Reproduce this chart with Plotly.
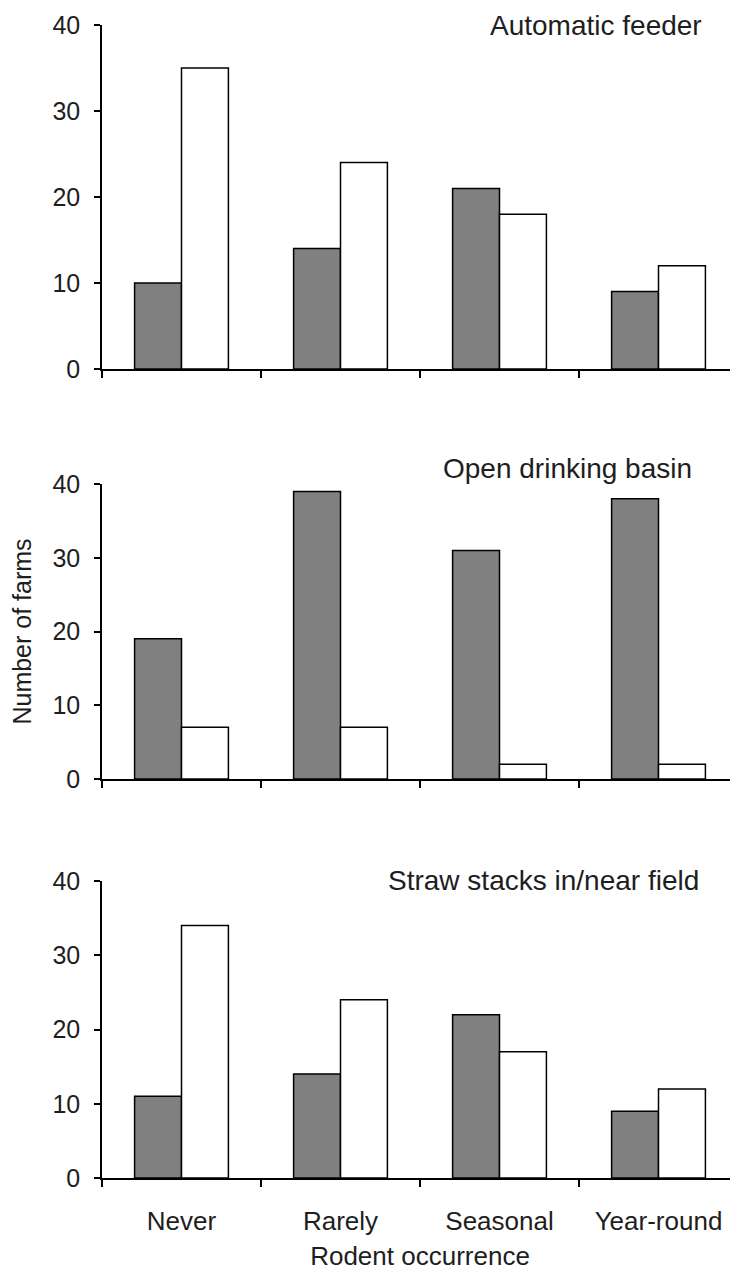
import plotly.graph_objects as go

categories = ["Never", "Rarely", "Seasonal", "Year-round"]
panel_titles = ["Automatic feeder", "Open drinking basin", "Straw stacks in/near field"]
feeder_gray = [10, 14, 21, 9]
feeder_white = [35, 24, 18, 12]
basin_gray = [19, 39, 31, 38]
basin_white = [7, 7, 2, 2]
straw_gray = [11, 14, 22, 9]
straw_white = [34, 24, 17, 12]
y_ticks = [0, 10, 20, 30, 40]
x_title = "Rodent occurrence"
y_title = "Number of farms"

# page body has an 8px margin, so the figure sits at (8, 8) in the window
OFF = 8
W, H = 738 - OFF, 1279 - OFF
FONT = "Liberation Sans, Arial, sans-serif"
TXT = "#1e1e1e"


def px_x(v):
    return (v - OFF) / W


def px_y(v):
    return 1 - (v - OFF) / H


# (gray, white, window y of 40, window y of 0, title centre y, title right x)
panels = [
    (feeder_gray, feeder_white, 25, 369, 26, 703),
    (basin_gray, basin_white, 484, 779, 468, 693),
    (straw_gray, straw_white, 881, 1178, 880, 700),
]

fig = go.Figure()
layout = dict(
    width=W, height=H,
    margin=dict(l=0, r=0, t=0, b=0, autoexpand=False),
    paper_bgcolor="white", plot_bgcolor="white",
    barmode="group", bargap=0.41, bargroupgap=0,
    showlegend=False,
    font=dict(family=FONT, color=TXT, size=24),
)
annotations = []
for i, (g, w, ytop, ybot, tcy, trx) in enumerate(panels, start=1):
    xa = "x" if i == 1 else f"x{i}"
    ya = "y" if i == 1 else f"y{i}"
    fig.add_trace(go.Bar(x=categories, y=g, xaxis=xa, yaxis=ya, name="Yes",
                         marker=dict(color="#808080", line=dict(color="black", width=1.5))))
    fig.add_trace(go.Bar(x=categories, y=w, xaxis=xa, yaxis=ya, name="No",
                         marker=dict(color="white", line=dict(color="black", width=1.5))))
    xkey = "xaxis" if i == 1 else f"xaxis{i}"
    ykey = "yaxis" if i == 1 else f"yaxis{i}"
    layout[xkey] = dict(
        domain=[px_x(102), 1.0], anchor=ya,
        type="category", automargin=False,
        categoryorder="array", categoryarray=categories, range=[-0.5, 3.5],
        showline=True, linecolor="black", linewidth=1.5,
        ticks="outside", tickson="boundaries", ticklen=7, tickwidth=1.5, tickcolor="black",
        showgrid=False, zeroline=False, showticklabels=(i == 3),
        tickfont=dict(size=26, color=TXT), ticklabelstandoff=19,
    )
    layout[ykey] = dict(
        domain=[px_y(ybot), px_y(ytop)], anchor=xa, range=[0, 40], automargin=False,
        tickmode="array", tickvals=y_ticks,
        showline=True, linecolor="black", linewidth=1.5,
        ticks="outside", ticklen=6, tickwidth=1.5, tickcolor="black",
        showgrid=False, zeroline=False,
        tickfont=dict(size=25, color=TXT), ticklabelstandoff=9,
    )
    annotations.append(dict(
        text=panel_titles[i - 1], xref="paper", yref="paper",
        x=px_x(trx), y=px_y(tcy), xanchor="right", yanchor="middle",
        showarrow=False, borderpad=0, font=dict(size=28, color=TXT, family=FONT),
    ))

layout["yaxis2"]["title"] = dict(text=y_title, font=dict(size=25, color=TXT), standoff=18)
layout["xaxis3"]["title"] = dict(text=x_title, font=dict(size=26, color=TXT), standoff=12)
layout["annotations"] = annotations
fig.update_layout(**layout)
fig.write_html("out.html")
